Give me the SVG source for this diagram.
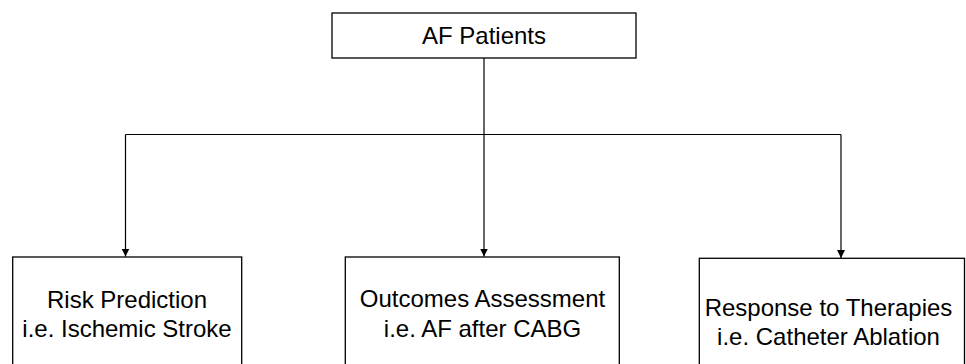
<svg xmlns="http://www.w3.org/2000/svg" width="966" height="364" viewBox="0 0 966 364">
<style>
.box{fill:#fff;stroke:#000;stroke-width:1.3}
.lbl{font-family:"Liberation Sans",Arial,sans-serif;font-size:24px;fill:#000;text-anchor:middle}
.con{fill:none;stroke:#000;stroke-width:1.2}
</style>
<defs>
<marker id="arr" viewBox="0 0 10 10" refX="10" refY="5" markerWidth="8" markerHeight="8" markerUnits="userSpaceOnUse" orient="auto">
<path d="M0,0 L10,5 L0,10 Z" fill="#000"/>
</marker>
</defs>
<rect width="966" height="364" fill="#fff"/>
<g id="connectors">
<line class="con" x1="484" y1="58" x2="484" y2="256.5" marker-end="url(#arr)"/>
<line class="con" x1="125.5" y1="134.5" x2="841" y2="134.5" stroke="#555"/>
<line class="con" x1="125.5" y1="134.5" x2="125.5" y2="256.5" marker-end="url(#arr)"/>
<line class="con" x1="841" y1="134.5" x2="841" y2="258" marker-end="url(#arr)"/>
</g>
<g id="af-patients">
<rect class="box" x="332" y="13" width="304" height="45"/>
<text class="lbl" x="484" y="43.5">AF Patients</text>
</g>
<g id="risk-prediction">
<rect class="box" x="12.7" y="257" width="229" height="120"/>
<text class="lbl" x="127" y="308">Risk Prediction</text>
<text class="lbl" x="127" y="337">i.e. Ischemic Stroke</text>
</g>
<g id="outcomes-assessment">
<rect class="box" x="345.3" y="257" width="274" height="120"/>
<text class="lbl" x="482.5" y="307">Outcomes Assessment</text>
<text class="lbl" x="482.5" y="337">i.e. AF after CABG</text>
</g>
<g id="response-therapies">
<rect class="box" x="699.3" y="258.3" width="265.2" height="120"/>
<text class="lbl" x="828.5" y="316">Response to Therapies</text>
<text class="lbl" x="828.5" y="345">i.e. Catheter Ablation</text>
</g>
</svg>
